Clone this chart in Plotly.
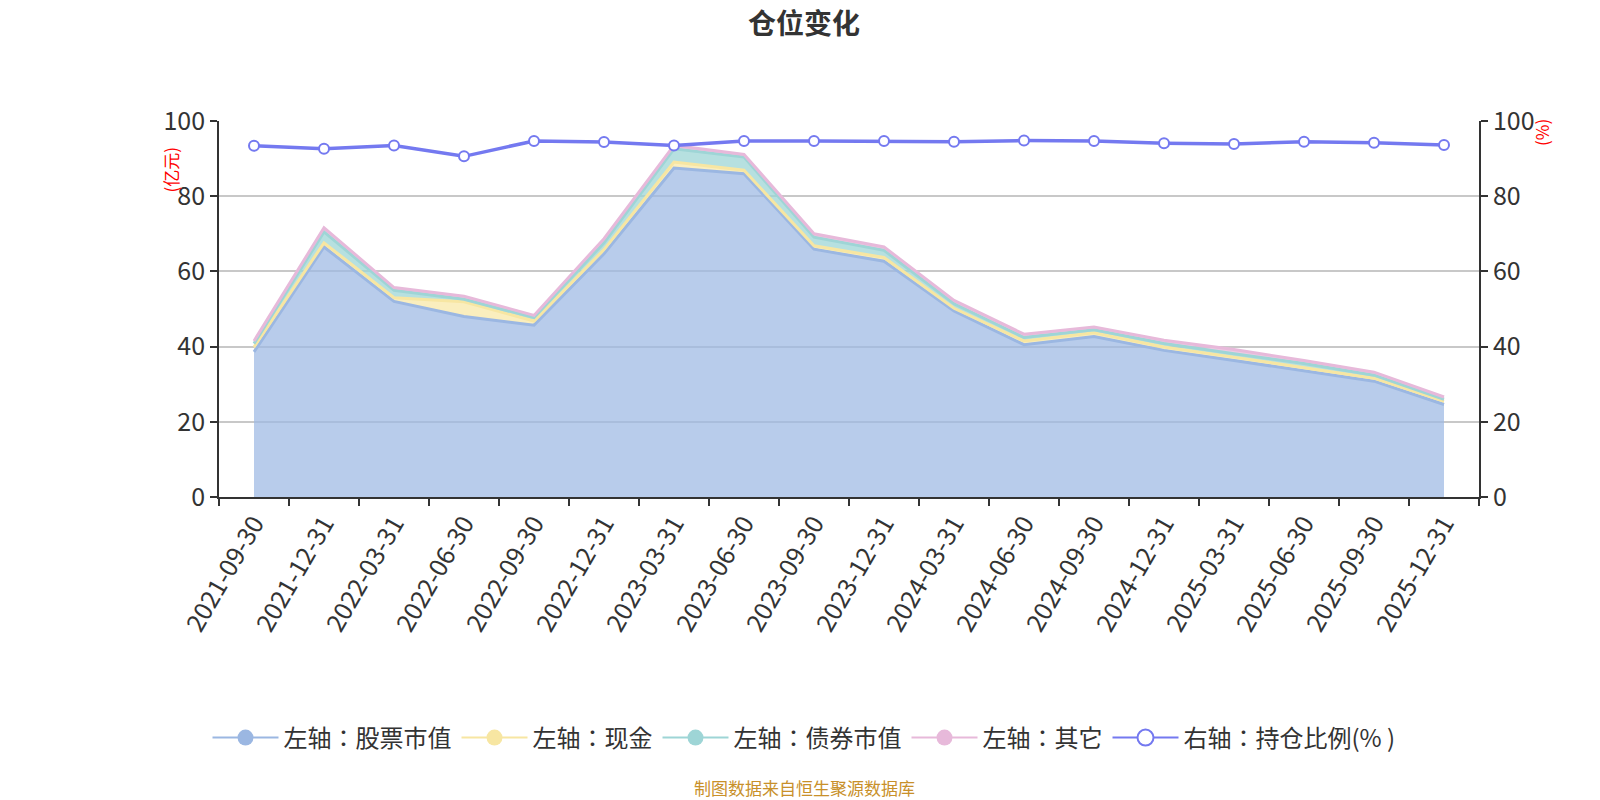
import plotly.graph_objects as go

dates = ["2021-09-30", "2021-12-31", "2022-03-31", "2022-06-30", "2022-09-30",
         "2022-12-31", "2023-03-31", "2023-06-30", "2023-09-30", "2023-12-31",
         "2024-03-31", "2024-06-30", "2024-09-30", "2024-12-31", "2025-03-31",
         "2025-06-30", "2025-09-30", "2025-12-31"]

# 亿元
stock = [38.6, 66.5, 52.0, 48.0, 45.7, 64.7, 87.5, 86.0, 65.9, 62.7,
         49.5, 40.5, 42.7, 39.0, 36.3, 33.5, 30.8, 24.6]
cash = [1.3, 1.1, 1.0, 3.9, 1.1, 1.1, 1.6, 0.9, 0.9, 1.0,
        0.7, 1.0, 1.0, 0.9, 0.9, 0.9, 0.8, 0.9]
bond = [0.9, 2.9, 2.0, 0.7, 0.9, 1.8, 3.5, 3.5, 2.3, 1.9,
        1.2, 0.9, 0.8, 0.9, 0.9, 1.1, 0.8, 0.5]
other = [0.7, 1.1, 0.7, 0.8, 0.6, 1.1, 0.9, 0.7, 0.9, 0.9,
         0.9, 0.9, 0.7, 0.9, 1.1, 0.8, 0.8, 0.6]
# %
ratio = [93.4, 92.6, 93.5, 90.6, 94.7, 94.4, 93.5, 94.7, 94.7, 94.7,
         94.5, 94.8, 94.7, 94.1, 93.9, 94.5, 94.2, 93.6]

FONT = "Noto Sans CJK SC"
LEGEND_FONT = "Noto Sans CJK JP"

areas = [
    ("左轴：股票市值", stock, "#9bb7e2", "rgba(157,185,227,0.72)"),
    ("左轴：现金", cash, "#f7e6a2", "rgba(248,232,168,0.75)"),
    ("左轴：债券市值", bond, "#9ed5d6", "rgba(158,213,214,0.75)"),
    ("左轴：其它", other, "#e7b9da", "rgba(231,185,218,0.75)"),
]

fig = go.Figure()

for name, vals, line_c, fill_c in areas:
    fig.add_trace(go.Scatter(
        x=dates, y=vals, name=name, mode="lines", stackgroup="one",
        line=dict(color=line_c, width=3), fillcolor=fill_c,
        showlegend=False, hoverinfo="x+y+name"))

fig.add_trace(go.Scatter(
    x=dates, y=ratio, name="右轴：持仓比例(% )", mode="lines+markers", yaxis="y2",
    line=dict(color="#7479f0", width=3.5),
    marker=dict(size=10, color="white", line=dict(color="#7479f0", width=2)),
    showlegend=False))

# legend entries in the echarts style (circle + line)
for name, vals, line_c, fill_c in areas:
    fig.add_trace(go.Scatter(
        x=[None], y=[None], name=name, mode="lines+markers",
        line=dict(color=line_c, width=2),
        marker=dict(size=20, color=line_c)))
fig.add_trace(go.Scatter(
    x=[None], y=[None], name="右轴：持仓比例(% )", mode="lines+markers",
    line=dict(color="#7479f0", width=2),
    marker=dict(size=20, color="white", line=dict(color="#7479f0", width=2))))

# page body has an 8px margin, so the figure is drawn 8px smaller
W, H = 1592, 792
axis_style = dict(ticks="outside", ticklen=7, tickwidth=1.8, tickcolor="#333",
                  showline=True, linecolor="#333", linewidth=1.8,
                  tickfont=dict(size=25, color="#333"))

fig.update_layout(
    width=W, height=H,
    margin=dict(l=211, r=121, t=113, b=303),
    paper_bgcolor="white", plot_bgcolor="white",
    font=dict(family=FONT, size=22, color="#333"),
    title=dict(text="仓位变化", x=0.5, xanchor="center", y=1 - 16 / H,
               yanchor="middle",
               font=dict(size=28, color="#333", weight="bold")),
    xaxis=dict(type="category", range=[-0.5, len(dates) - 0.5],
               tickangle=-60, tickson="boundaries", showgrid=False,
               **axis_style),
    yaxis=dict(range=[0, 100], dtick=20, gridcolor="#c8c8c8",
               gridwidth=1.5, zeroline=False, **axis_style),
    yaxis2=dict(range=[0, 100], dtick=20, overlaying="y", side="right",
                showgrid=False, zeroline=False, **axis_style),
    legend=dict(orientation="h", xref="container", x=0.5, xanchor="center",
                yref="container", y=1 - 730 / H, yanchor="middle",
                traceorder="normal",
                font=dict(family=LEGEND_FONT, size=24, color="#333"),
                itemwidth=66, bgcolor="rgba(0,0,0,0)"),
    showlegend=True,
)

fig.add_annotation(text="(亿元)", xref="paper", yref="paper",
                   x=-64 / 1260, y=1 - 24 / 376, textangle=-90,
                   showarrow=False, font=dict(size=17, color="red"))
fig.add_annotation(text="(%)", xref="paper", yref="paper",
                   x=1 + 77 / 1260, y=1 + 4 / 376, textangle=-90,
                   showarrow=False, font=dict(size=17, color="red"))
fig.add_annotation(text="制图数据来自恒生聚源数据库", xref="paper", yref="paper",
                   x=(796 - 211) / 1260, y=-(779 - 489) / 376, yanchor="middle",
                   showarrow=False, font=dict(size=17, color="#c8902a"))

fig.write_html("out.html")
